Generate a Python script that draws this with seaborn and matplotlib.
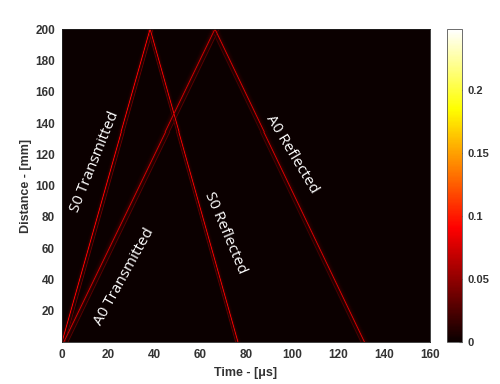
import numpy as np
import matplotlib
matplotlib.use('Agg')
import matplotlib.pyplot as plt
import seaborn as sns

# Wave fronts: time [us] where each line meets 0 mm and 200 mm
wave_labels = ['S0 Transmitted', 'A0 Transmitted', 'S0 Reflected', 'A0 Reflected']
t_at_0mm = [0.0, 0.8, 76.5, 131.5]
t_at_200mm = [38.3, 66.5, 38.3, 66.5]
line_amp = [0.075, 0.055, 0.07, 0.06]
line_width_us = [0.18, 0.2, 0.18, 0.2]
halo_amp = [0.012, 0.014, 0.012, 0.012]
halo_width_us = [0.7, 1.0, 0.7, 1.0]
# second faint parallel trace of each packet (offset in us, relative amplitude)
echo_offset_us = [1.3, 1.8, -1.0, -1.5]
echo_rel_amp = [0.4, 0.45, 0.35, 0.3]

# label placement (time, distance, rotation)
label_t = [14.5, 27.0, 71.0, 100.0]
label_d = [115.0, 42.0, 70.0, 120.0]
label_rot = [68, 61, -67, -59]

x_ticks = [0, 20, 40, 60, 80, 100, 120, 140, 160]
y_ticks = [20, 40, 60, 80, 100, 120, 140, 160, 180, 200]
cbar_ticks = [0, 0.05, 0.1, 0.15, 0.2]

t_max, d_max = 160.0, 200.0
n_t, n_d = 368, 312
v_max = 0.248


def build_field():
    t = (np.arange(n_t) + 0.5) * t_max / n_t
    d = (np.arange(n_d) + 0.5) * d_max / n_d
    T, D = np.meshgrid(t, d)
    field = np.zeros_like(T)
    for i in range(len(wave_labels)):
        tc = t_at_0mm[i] + (t_at_200mm[i] - t_at_0mm[i]) * D / d_max
        main = line_amp[i] * np.exp(-0.5 * ((T - tc) / line_width_us[i]) ** 2)
        echo = echo_rel_amp[i] * line_amp[i] * np.exp(
            -0.5 * ((T - tc - echo_offset_us[i]) / line_width_us[i]) ** 2)
        halo = halo_amp[i] * np.exp(-0.5 * ((T - tc) / halo_width_us[i]) ** 2)
        field = np.maximum(field, main + echo + halo)
    return field


field = build_field()

sns.set_style('white')
plt.rcParams['font.family'] = ['Liberation Sans', 'DejaVu Sans']

fig = plt.figure(figsize=(5.0, 3.84), dpi=100)
ax = fig.add_axes([0.124, 0.109, 0.736, 0.815])
cax = fig.add_axes([0.894, 0.109, 0.030, 0.815])

sns.heatmap(field, ax=ax, cbar_ax=cax, cmap='hot', vmin=0, vmax=v_max,
            xticklabels=False, yticklabels=False, rasterized=True)
ax.invert_yaxis()

# map data units onto heatmap cell coordinates
ax.set_xticks([v / t_max * n_t for v in x_ticks])
ax.set_xticklabels([str(v) for v in x_ticks], fontsize=8.5, fontweight='bold', color='#333333')
ax.set_yticks([v / d_max * n_d for v in y_ticks])
ax.set_yticklabels([str(v) for v in y_ticks], fontsize=8.5, fontweight='bold', color='#333333',
                   rotation=0)
ax.tick_params(axis='both', direction='in', length=2, pad=5, color='#222222')
ax.set_xlabel('Time - [\u03bcs]', fontsize=9, fontweight='bold', color='#333333', labelpad=4)
ax.set_ylabel('Distance - [mm]', fontsize=9, fontweight='bold', color='#333333', labelpad=2)
for s in ax.spines.values():
    s.set_visible(True)
    s.set_color('#222222')
    s.set_linewidth(0.6)

for lab, lt, ld, rot in zip(wave_labels, label_t, label_d, label_rot):
    ax.text(lt / t_max * n_t, ld / d_max * n_d, lab, color='white', fontsize=11,
            rotation=rot, rotation_mode='anchor', ha='center', va='center',
            family=['Open Sans', 'DejaVu Sans'])

cb = ax.collections[0].colorbar
cb.set_ticks(cbar_ticks)
cb.set_ticklabels(['0', '0.05', '0.1', '0.15', '0.2'])
cax.tick_params(labelsize=8, direction='in', length=2, color='#444444', pad=4)
for t in cax.get_yticklabels():
    t.set_fontweight('bold')
    t.set_color('#333333')
cb.outline.set_visible(True)
cb.outline.set_edgecolor('#555555')
cb.outline.set_linewidth(0.6)

fig.savefig('out.png', dpi=100)
